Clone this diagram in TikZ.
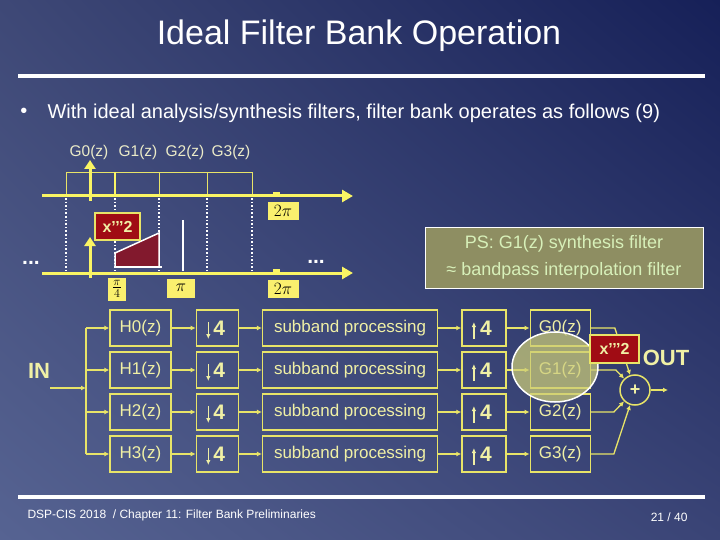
\documentclass[tikz,border=0pt]{standalone}
\usepackage{fontspec}
\setmainfont{Liberation Sans}
\usetikzlibrary{arrows.meta, positioning, shapes.geometric, shadings}

\definecolor{bgul}{RGB}{62,72,118}
\definecolor{bgur}{RGB}{22,32,88}
\definecolor{bgll}{RGB}{86,99,146}
\definecolor{bglr}{RGB}{58,68,118}
\definecolor{fgline}{RGB}{232,228,104}
\definecolor{fgtext}{RGB}{240,240,165}
\definecolor{axisyel}{RGB}{250,245,100}
\definecolor{lblyellow}{RGB}{250,240,110}
\definecolor{darkred}{RGB}{160,12,20}
\definecolor{maroon}{RGB}{130,25,45}
\definecolor{psfill}{RGB}{142,142,98}
\definecolor{pstext}{RGB}{215,240,185}
\definecolor{pale}{RGB}{235,235,200}
\definecolor{hilite}{RGB}{205,205,120}

\begin{document}
\begin{tikzpicture}[x=1pt, y=-1pt, >={Latex[length=5pt,width=5pt]},
    blk/.style={draw=fgline, line width=1.3pt, minimum height=36pt, inner sep=0pt, text=fgtext, font=\fontsize{17}{17}\selectfont},
    rate/.style={blk, font=\bfseries\fontsize{21}{21}\selectfont},
    sig/.style={->, draw=fgline, line width=1.3pt},
    ratearrow/.style={draw=fgtext, line width=1.4pt, -{Latex[length=5pt,width=4.5pt]}},
    axis/.style={-{Triangle[length=11pt,width=12pt]}, draw=axisyel, line width=3pt},
    tag/.style={fill=lblyellow, inner sep=1pt, text=black, font=\fontsize{16}{16}\selectfont},
    redtag/.style={fill=darkred, draw=fgline, line width=1.2pt, inner sep=0pt, text=fgtext, font=\bfseries\fontsize{16}{16}\selectfont},
    label/.style={text=fgtext, font=\bfseries\fontsize{22}{22}\selectfont}]

    \useasboundingbox (0,0) rectangle (720,540);
    \shade[upper left=bgul, upper right=bgur, lower left=bgll, lower right=bglr] (0,0) rectangle (720,540);

    % title and bullet
    \node[text=white, font=\fontsize{34}{34}\selectfont] (title) at (359,36) {Ideal Filter Bank Operation};
    \draw[white, line width=4pt] (18,76) -- (705,76);
    \node[text=white, font=\fontsize{20}{20}\selectfont] (bullet) at (24,113) {•};
    \node[anchor=west, text=white, font=\fontsize{20}{20}\selectfont] (intro) at (44,113)
        {With ideal analysis/synthesis filters, filter bank operates as follows (9)};

    % spectra
    \draw[fgline, line width=0.8pt] (66,172) rectangle (252,196);
    \foreach \x in {159,207}
        \draw[fgline, line width=0.8pt] (\x,172) -- (\x,196);
    \draw[axisyel, line width=1.5pt] (115,172) -- (115,196);
    \foreach \x/\g in {89/0, 138/1, 185/2, 231/3}
        \node[text=pale, font=\fontsize{15.5}{15.5}\selectfont] (glab\g) at (\x,152) {G\g(z)};
    \foreach \x in {66,115,159,207,252}
        \draw[white, line width=1.4pt, dash pattern=on 1.6pt off 2pt] (\x,198) -- (\x,271);

    \draw[axis] (42,196) -- (353,196);
    \draw[axis] (42,273) -- (353,273);
    \draw[axis, -{Triangle[length=9pt,width=11pt]}] (90,201) -- (90,160);
    \draw[axis, -{Triangle[length=9pt,width=11pt]}] (90,278) -- (90,237);
    \fill[axisyel] (273,192) rectangle (280,196);
    \fill[axisyel] (273,269) rectangle (280,273);

    \filldraw[fill=maroon, draw=white, line width=1.5pt] (115,267) -- (115,253) -- (159,233) -- (159,267) -- cycle;
    \draw[white, line width=1.5pt] (115,267) -- (162,267);
    \draw[white, line width=2.5pt] (183,220) -- (183,271);

    \node[tag, minimum width=31pt, minimum height=18pt] (toptwopi) at (283,211) {$2\pi$};
    \node[tag, minimum width=31pt, minimum height=18pt] (twopi) at (283,289) {$2\pi$};
    \node[tag, minimum width=28pt, minimum height=19pt] (pi) at (181,288) {$\pi$};
    \node[tag, minimum width=18pt, minimum height=23pt, inner sep=0pt, font=\fontsize{18}{18}\selectfont] (piq) at (117,289) {$\frac{\pi}{4}$};
    \node[redtag, minimum width=45pt, minimum height=27pt] (xspec) at (117.5,226.5) {x’’’2};
    \node[text=white, font=\bfseries\fontsize{21}{21}\selectfont] (ldots) at (31,263) {...};
    \node[text=white, font=\bfseries\fontsize{21}{21}\selectfont] (rdots) at (316,262) {...};

    \node[draw=white, line width=0.8pt, fill=psfill, text=pstext, align=center, minimum width=278pt,
        minimum height=61pt, font=\fontsize{18}{27}\selectfont] (ps) at (564,257.5)
        {PS: G1(z) synthesis filter\\≈ bandpass interpolation filter};

    % filter bank
    \node[label] (in) at (39,371) {IN};
    \coordinate (src) at (50,388);
    \coordinate (bus) at (86,388);
    \draw[sig] (src) -- (bus);

    \foreach \i in {0,...,3}{
        \pgfmathsetmacro{\rowy}{328+42*\i}
        \node[blk, minimum width=61pt] (h\i) at (140.5,\rowy) {H\i(z)};
        \node[rate, minimum width=42pt, right=24pt of h\i] (dn\i) {\hspace*{4pt}4};
        \node[blk, minimum width=175pt, right=23pt of dn\i] (sp\i) {subband processing};
        \node[rate, minimum width=44pt, right=23pt of sp\i] (up\i) {\hspace*{4pt}4};
        \node[blk, minimum width=60pt, right=23pt of up\i] (g\i) {G\i(z)};
        \draw[ratearrow] ([xshift=-9pt, yshift=6pt]dn\i.center) -- ([xshift=-9pt, yshift=-11pt]dn\i.center);
        \draw[ratearrow] ([xshift=-10pt, yshift=-11pt]up\i.center) -- ([xshift=-10pt, yshift=6pt]up\i.center);
        \draw[sig] (bus |- h\i) -- (h\i);
        \draw[sig] (h\i) -- (dn\i);
        \draw[sig] (dn\i) -- (sp\i);
        \draw[sig] (sp\i) -- (up\i);
        \draw[sig] (up\i) -- (g\i);
    }
    \draw[fgline, line width=1.3pt] (bus |- h0) -- (bus |- h3);

    \node[circle, draw=fgline, line width=1.5pt, minimum size=30pt, inner sep=0pt, text=fgtext,
        font=\bfseries\fontsize{18}{18}\selectfont] (sum) at (635,390) {+};
    \draw[sig] (g0.east) -- ++(24,0) -- (sum);
    \draw[sig] (g1.east) -- ++(25,0) -- (sum);
    \draw[sig] (g2.east) -- ++(23,0) -- (sum);
    \draw[sig] (g3.east) -- ++(23,0) -- (sum);
    \coordinate (out) at (668,390);
    \draw[sig] (sum) -- (out);
    \node[label] (outlbl) at (666,358) {OUT};

    \node[ellipse, minimum width=86pt, minimum height=70pt, fill=hilite, fill opacity=0.72,
        draw=white, line width=1.5pt] (hl) at (555,367) {};
    \node[redtag, minimum width=49pt, minimum height=28pt] (xout) at (614.5,349) {x’’’2};

    % footer
    \draw[white, line width=4pt] (18,497) -- (705,497);
    \node[anchor=west, text=white, font=\fontsize{12}{12}\selectfont] (foot) at (24,515)
        {DSP-CIS 2018 \ / Chapter 11: Filter Bank Preliminaries};
    \node[anchor=east, text=white, font=\fontsize{12}{12}\selectfont] (page) at (691,517) {21 / 40};
\end{tikzpicture}
\end{document}
